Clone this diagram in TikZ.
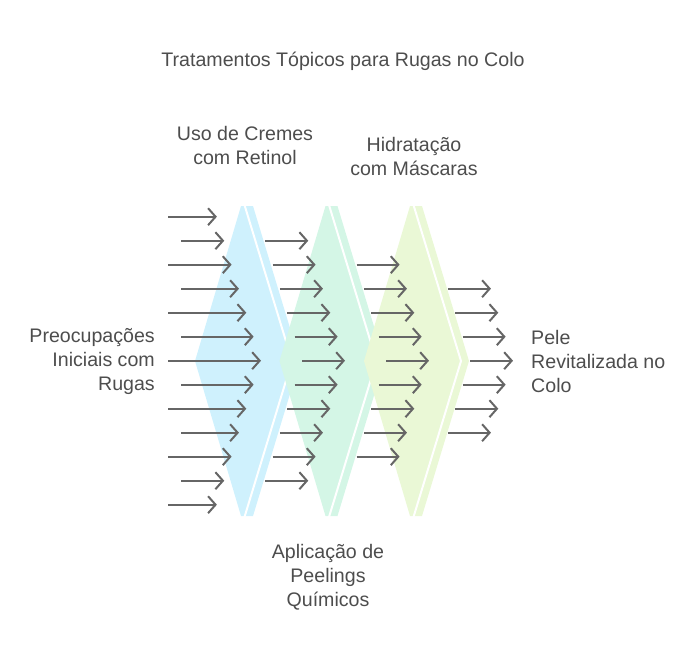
\documentclass[tikz,border=0pt]{standalone}
\usepackage{fontspec}
\setmainfont{Liberation Sans}
\usetikzlibrary{arrows.meta}
\definecolor{txt}{HTML}{4D4D4D}
\definecolor{arr}{HTML}{666666}
\definecolor{fa}{HTML}{CFF1FD}
\definecolor{fb}{HTML}{D4F6E6}
\definecolor{fc}{HTML}{EAF8D6}
\begin{document}
\begin{tikzpicture}[x=1pt,y=-1pt,
  lbl/.style={text=txt,font=\fontsize{19.6}{24}\selectfont,inner sep=0pt},
  flow/.style={draw=arr,line width=2pt,-{Straight Barb[length=7.5pt,width=17pt,line width=2pt]}},
  gap/.style={draw=white,line width=2pt}]
\useasboundingbox (0,0) rectangle (698,662);
% stages
\foreach \dx/\col in {0/fa,84.5/fb,169/fc}{
  \begin{scope}[xshift=\dx]
    \fill[\col] (241,206) -- (253,206) -- (300,361) -- (253,516) -- (241,516) -- (195,361) -- cycle;
    \draw[gap] (244.5,205) -- (292,361) -- (244.5,517);
  \end{scope}
}
% stage 1 input arrows
\foreach \i in {0,...,12}{
  \pgfmathsetmacro{\yy}{216.7+24*\i}
  \pgfmathsetmacro{\tip}{261-7.35*abs(\i-6)}
  \pgfmathsetmacro{\st}{isodd(\i) ? 181 : 168}
  \coordinate (a\i s) at (\st,\yy);
  \coordinate (a\i e) at (\tip,\yy);
  \draw[flow] (a\i s) -- (a\i e);
}
% stage 2 arrows
\foreach \i in {1,...,11}{
  \pgfmathsetmacro{\yy}{216.7+24*\i}
  \pgfmathsetmacro{\tip}{345-7.35*abs(\i-6)}
  \coordinate (b\i s) at (\tip-43,\yy);
  \coordinate (b\i e) at (\tip,\yy);
  \draw[flow] (b\i s) -- (b\i e);
}
% stage 3 arrows
\foreach \i in {2,...,10}{
  \pgfmathsetmacro{\yy}{216.7+24*\i}
  \pgfmathsetmacro{\tip}{429-7.35*abs(\i-6)}
  \coordinate (c\i s) at (\tip-43,\yy);
  \coordinate (c\i e) at (\tip,\yy);
  \draw[flow] (c\i s) -- (c\i e);
}
% output arrows
\foreach \i in {3,...,9}{
  \pgfmathsetmacro{\yy}{216.7+24*\i}
  \pgfmathsetmacro{\tip}{513-7.35*abs(\i-6)}
  \coordinate (d\i s) at (\tip-43,\yy);
  \coordinate (d\i e) at (\tip,\yy);
  \draw[flow] (d\i s) -- (d\i e);
}
% labels
\node[lbl] (title) at (343,61) {Tratamentos Tópicos para Rugas no Colo};
\node[lbl,align=center] (s1) at (245,145) {Uso de Cremes\\com Retinol};
\node[lbl,align=center] (s3) at (414,156) {Hidratação\\com Máscaras};
\node[lbl,align=center] (s2) at (328,577) {Aplicação de\\Peelings\\Químicos};
\node[lbl,align=right,anchor=east] (in) at (155,361) {Preocupações\\Iniciais com\\Rugas};
\node[lbl,align=left,anchor=west] (out) at (531,361) {Pele\\Revitalizada no\\Colo};
\end{tikzpicture}
\end{document}
